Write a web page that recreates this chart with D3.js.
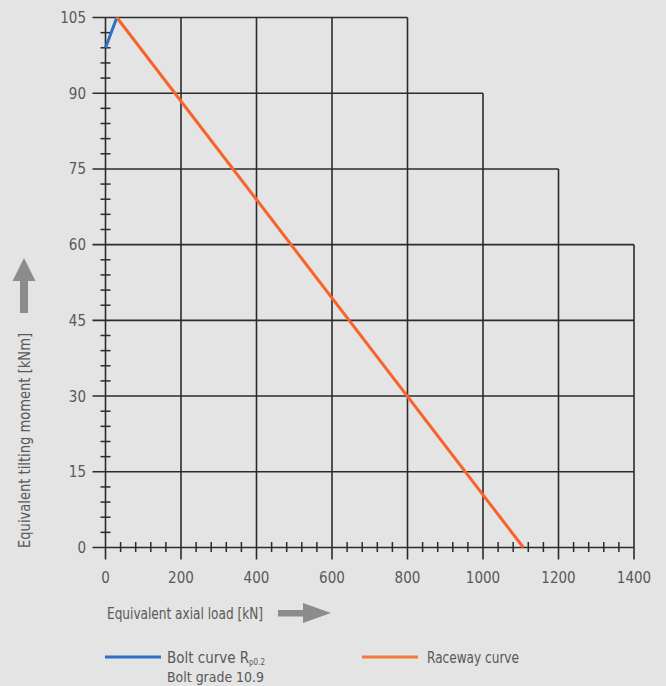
<!DOCTYPE html>
<html><head><meta charset="utf-8">
<script src="https://cdn.jsdelivr.net/npm/d3@7"></script>
<style>
html,body{margin:0;padding:0;background:#e3e4e3;}
svg{display:block;}
text{font-family:"Liberation Sans Narrow","Arial Narrow","DejaVu Sans Condensed",sans-serif;fill:#595959;}
</style></head>
<body>
<script>
// ---- data ----
const xTicks = [0, 200, 400, 600, 800, 1000, 1200, 1400];
const xGridTop = [105, 105, 105, 105, 105, 90, 75, 60];      // height reached by each vertical grid line
const yTicks = [0, 15, 30, 45, 60, 75, 90, 105];
const yGridRight = [1400, 1400, 1400, 1400, 1400, 1200, 1000, 800]; // extent of each horizontal grid line
const boltX = [0, 30];
const boltY = [99, 105];
const raceX = [30, 1107];
const raceY = [105, 0];
const xMinorStep = 40;
const yMinorStep = 3;

const W = 666, H = 686;
const svg = d3.select("body").append("svg").attr("width", W).attr("height", H);
svg.append("rect").attr("width", W).attr("height", H).attr("fill", "#e3e4e3");

const x = d3.scaleLinear().domain([0, 1400]).range([105.5, 634]);
const y = d3.scaleLinear().domain([0, 105]).range([547.5, 17.5]);

const gridColor = "#2b2b2b";
const g = svg.append("g");

// vertical grid lines (staircase)
g.selectAll("line.vx").data(xTicks).enter().append("line")
  .attr("x1", d => x(d)).attr("x2", d => x(d))
  .attr("y1", (d, i) => y(xGridTop[i])).attr("y2", y(0) + 12)
  .attr("stroke", gridColor).attr("stroke-width", 1.6);

// horizontal grid lines
g.selectAll("line.hy").data(yTicks).enter().append("line")
  .attr("y1", d => y(d)).attr("y2", d => y(d))
  .attr("x1", x(0) - 13).attr("x2", (d, i) => x(yGridRight[i]))
  .attr("stroke", gridColor).attr("stroke-width", 1.6);

// minor ticks
const xMinor = d3.range(xMinorStep, 1400, xMinorStep).filter(v => v % 200 !== 0);
g.selectAll("line.mx").data(xMinor).enter().append("line")
  .attr("x1", d => x(d)).attr("x2", d => x(d))
  .attr("y1", y(0) - 5.5).attr("y2", y(0) + 4.5)
  .attr("stroke", gridColor).attr("stroke-width", 1.5);
const yMinor = d3.range(yMinorStep, 105, yMinorStep).filter(v => v % 15 !== 0);
g.selectAll("line.my").data(yMinor).enter().append("line")
  .attr("y1", d => y(d)).attr("y2", d => y(d))
  .attr("x1", x(0) - 5).attr("x2", x(0) + 5)
  .attr("stroke", gridColor).attr("stroke-width", 1.5);

// tick labels
svg.selectAll("text.xl").data(xTicks).enter().append("text")
  .attr("x", d => x(d)).attr("y", 583).attr("text-anchor", "middle")
  .attr("font-size", 15).text(d => d);
svg.selectAll("text.yl").data(yTicks).enter().append("text")
  .attr("x", 86).attr("y", d => y(d) + 5.5).attr("text-anchor", "end")
  .attr("font-size", 15).text(d => d);

// curves
const line = d3.line().x(d => x(d[0])).y(d => y(d[1]));
svg.append("path").datum(d3.zip(boltX, boltY)).attr("d", line)
  .attr("fill", "none").attr("stroke", "#2f6fc4").attr("stroke-width", 3);
svg.append("path").datum(d3.zip(raceX, raceY)).attr("d", line)
  .attr("fill", "none").attr("stroke", "#f7632a").attr("stroke-width", 3);

// axis titles
svg.append("text").attr("transform", "translate(29.5,548) rotate(-90)")
  .attr("font-size", 15).attr("textLength", 215).attr("lengthAdjust", "spacingAndGlyphs")
  .text("Equivalent tilting moment [kNm]");
svg.append("text").attr("x", 107).attr("y", 619)
  .attr("font-size", 15).attr("textLength", 156).attr("lengthAdjust", "spacingAndGlyphs")
  .text("Equivalent axial load [kN]");

// arrows
const arrowColor = "#8b8d8d";
svg.append("path").attr("fill", arrowColor)
  .attr("d", "M24,258 L35.5,281 L28,281 L28,313 L20,313 L20,281 L12.5,281 Z");
svg.append("path").attr("fill", arrowColor)
  .attr("d", "M331,613 L303,603 L303,610 L278,610 L278,616.5 L303,616.5 L303,623 Z");

// legend
svg.append("line").attr("x1", 105).attr("x2", 161).attr("y1", 657).attr("y2", 657)
  .attr("stroke", "#2f6fc4").attr("stroke-width", 3);
const lt = svg.append("text").attr("x", 167).attr("y", 663).attr("font-size", 15)
  .attr("textLength", 98).attr("lengthAdjust", "spacingAndGlyphs");
lt.append("tspan").text("Bolt curve R");
lt.append("tspan").attr("font-size", 8).attr("dy", 1.5).text("p0.2");
svg.append("text").attr("x", 167).attr("y", 681.5).attr("font-size", 14)
  .attr("textLength", 97).attr("lengthAdjust", "spacingAndGlyphs").text("Bolt grade 10.9");
svg.append("line").attr("x1", 362).attr("x2", 418).attr("y1", 657).attr("y2", 657)
  .attr("stroke", "#f07a3a").attr("stroke-width", 3);
svg.append("text").attr("x", 427).attr("y", 663).attr("font-size", 15)
  .attr("textLength", 92).attr("lengthAdjust", "spacingAndGlyphs").text("Raceway curve");
</script>
</body></html>
